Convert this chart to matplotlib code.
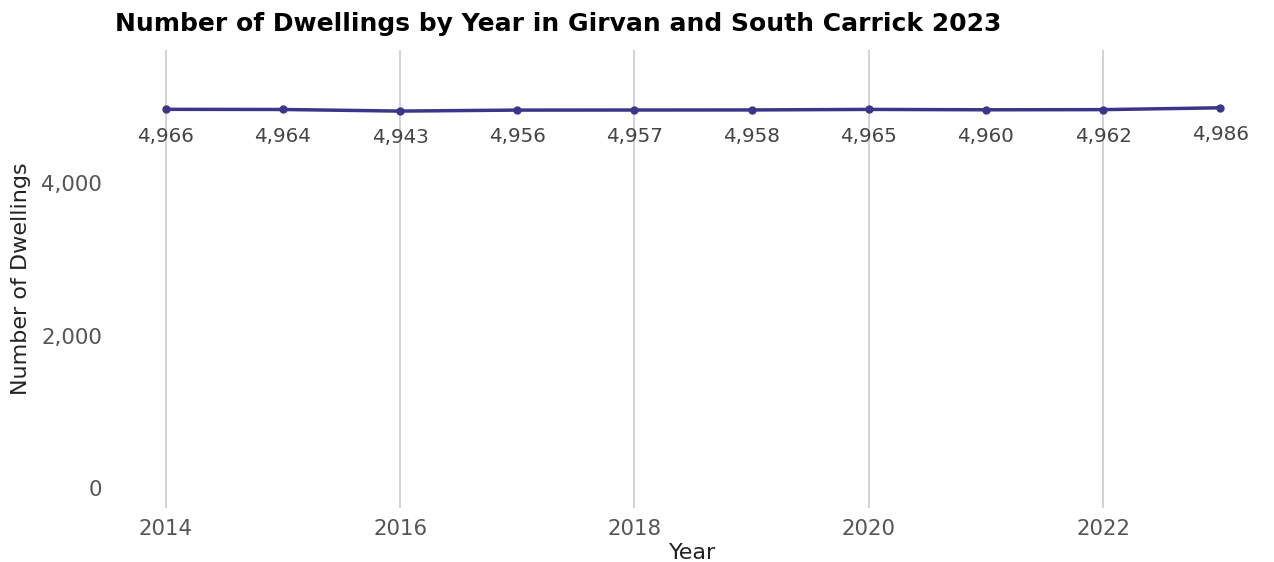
import matplotlib.pyplot as plt

years = [2014, 2015, 2016, 2017, 2018, 2019, 2020, 2021, 2022, 2023]
dwellings = [4966, 4964, 4943, 4956, 4957, 4958, 4965, 4960, 4962, 4986]
x_ticks = [2014, 2016, 2018, 2020, 2022]
y_ticks = [0, 2000, 4000]

line_col = '#3d3589'

fig = plt.figure(figsize=(12.74, 5.62), dpi=100)
ax = fig.add_axes([113 / 1274, 54 / 562, 1160 / 1274, 458 / 562])

ax.plot(years, dwellings, color=line_col, linewidth=2.5, marker='o', markersize=5)
for x, y in zip(years, dwellings):
    ax.annotate(f'{y:,}', (x, y), xytext=(0, -12.5), textcoords='offset points',
                ha='center', va='top', fontsize=14.3, color='#444444')

ax.set_xlim(2013.55, 2023.45)
ax.set_ylim(-262, 5744)
ax.set_xticks(x_ticks)
ax.set_yticks(y_ticks)
ax.set_yticklabels([f'{v:,}' for v in y_ticks])
ax.tick_params(length=0, labelsize=15.3, colors='#555555', pad=8)
ax.grid(axis='x', color='#cccccc', linewidth=1.2)
ax.set_axisbelow(True)
for s in ax.spines.values():
    s.set_visible(False)

ax.set_xlabel('Year', fontsize=16, color='#222222')
ax.set_ylabel('Number of Dwellings', fontsize=16, color='#222222')
ax.xaxis.set_label_coords(0.5, (508 - 543) / 458)
ax.yaxis.set_label_coords((31 - 113) / 1160, 0.5)
fig.text(115 / 1274, 1 - 24 / 562, 'Number of Dwellings by Year in Girvan and South Carrick 2023',
         fontsize=18, fontweight='bold', ha='left', va='center', color='black')

fig.savefig('out.png', dpi=100)
